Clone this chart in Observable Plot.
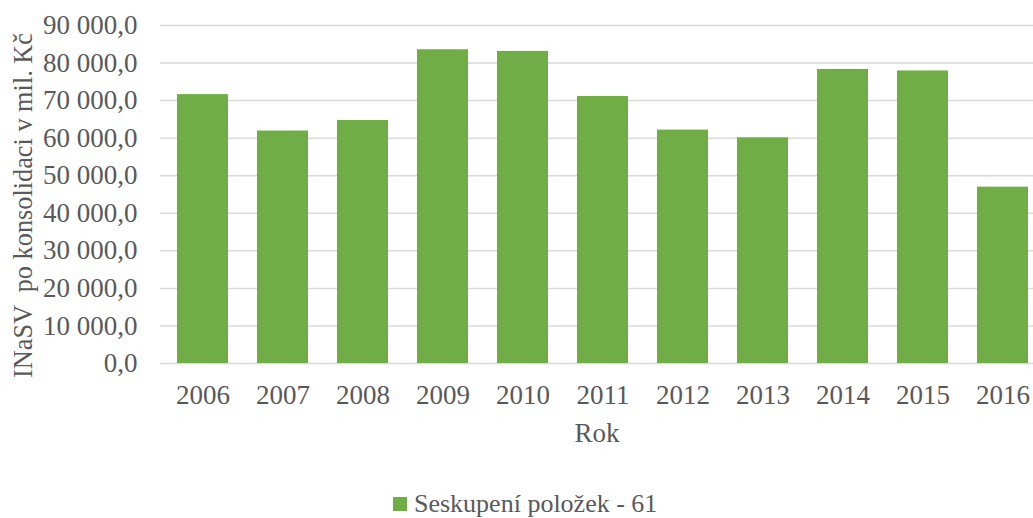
<!DOCTYPE html>
<html>
<head>
<meta charset="utf-8">
<script src="https://cdn.jsdelivr.net/npm/d3@7"></script>
<script src="https://cdn.jsdelivr.net/npm/@observablehq/plot@0.6"></script>
</head>
<body style="margin:0;padding:0;background:#fff;overflow:hidden;">
<div id="chart"></div>
<div id="legend" style="position:absolute;left:393px;top:489px;height:30px;display:flex;align-items:center;font-family:'Liberation Serif';font-size:26px;white-space:nowrap;color:#595959;">
  <span style="display:inline-block;width:14px;height:14px;background:#70AD47;margin-right:7px;"></span><span id="legtext"></span>
</div>
<script>
const years = ["2006","2007","2008","2009","2010","2011","2012","2013","2014","2015","2016"];
const values = [71600, 61900, 64700, 83550, 83100, 71100, 62150, 60100, 78300, 77900, 46950];
const yTicks = [0, 10000, 20000, 30000, 40000, 50000, 60000, 70000, 80000, 90000];
const seriesName = "Seskupení položek - 61";
const yTitle = "INaSV  po konsolidaci v mil. Kč";
const xTitle = "Rok";

const data = years.map((y, i) => ({year: y, value: values[i]}));
const fmt = d3.formatLocale({decimal: ",", thousands: " ", grouping: [3]}).format(",.1f");
const font = {fontFamily: "Liberation Serif", fontSize: 27, fontVariant: "normal", fill: "#595959"};

const chart = Plot.plot({
  width: 1033,
  height: 480,
  marginLeft: 160,
  marginRight: 0,
  marginTop: 25,
  marginBottom: 117,
  style: "font-family:'Liberation Serif';font-size:27px;color:#595959;background:white;overflow:visible;",
  x: {type: "band", domain: years, range: [160, 1044.7], paddingInner: 0.366, paddingOuter: 0.183},
  y: {domain: [0, 90000]},
  marks: [
    Plot.ruleY(yTicks, {stroke: "#D9D9D9", strokeWidth: 1.5}),
    Plot.barY(data, {x: "year", y: "value", fill: "#70AD47"}),
    Plot.axisX({...font, tickSize: 0, tickPadding: 21, label: xTitle, labelAnchor: "center", labelOffset: 78, labelArrow: "none"}),
    Plot.axisY({...font, ticks: yTicks, tickFormat: fmt, tickSize: 0, tickPadding: 23, label: null}),
    Plot.text([yTitle], {text: d => d, frameAnchor: "left", textAnchor: "middle", lineAnchor: "middle", rotate: -90, dx: -137, dy: 11, fontFamily: "Liberation Serif", fontSize: 26.3, fill: "#595959"})
  ]
});
document.getElementById("chart").appendChild(chart);
document.getElementById("legtext").textContent = seriesName;
// force layout so text metrics are resolved before the picture is taken
chart.querySelectorAll("text").forEach(t => { t.getBBox(); getComputedStyle(t).fontFamily; });
</script>
</body>
</html>
